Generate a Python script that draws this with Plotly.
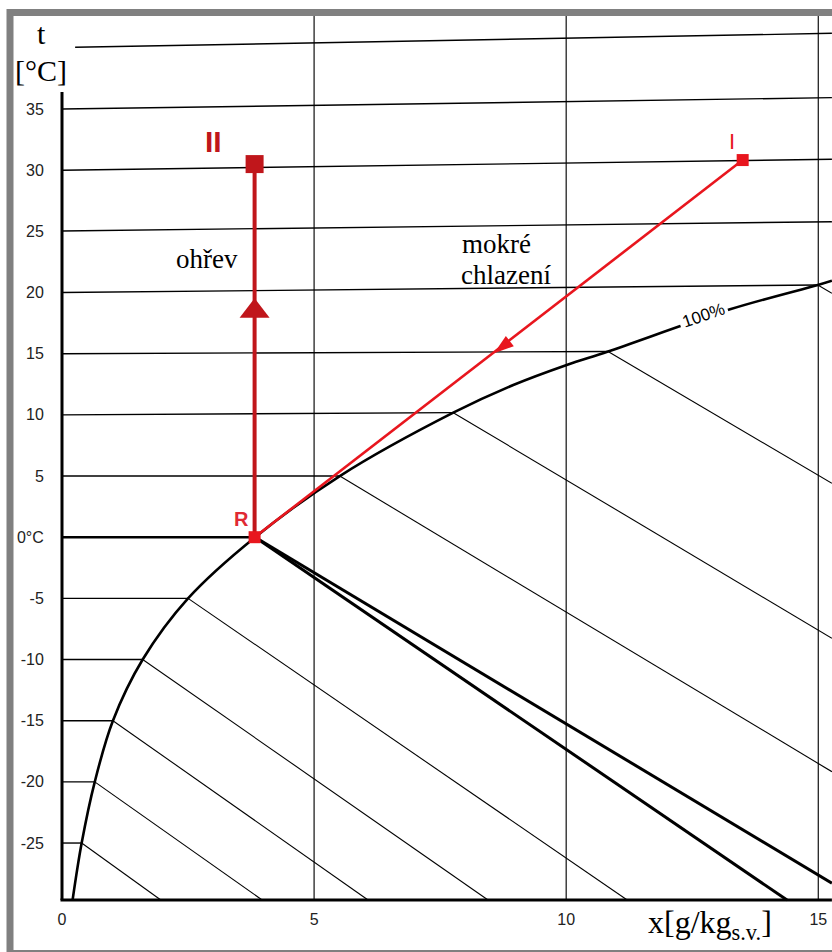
import plotly.graph_objects as go

# Hodnoty: x v g/kg s.v., t ve °C tak, jak je vyneseno v diagramu

# křivka nasycení (phi = 100 %)
sat_x = [0.21, 0.39, 0.65, 1.01, 1.60, 2.50, 3.83, 5.51, 7.76, 8.95, 10.01, 10.83, 13.25, 14.99, 15.27]
sat_t = [-29.66, -25.0, -20.0, -15.0, -10.0, -5.0, 0.0, 5.0, 10.18, 12.44, 14.08, 15.18, 18.63, 20.62, 20.97]

# izotermy nad křivkou nasycení (začátek / konec)
iso_t = [-25, -20, -15, -10, -5, 0, 5, 10, 15, 20, 25, 30, 35, 40]
iso_x0 = [0, 0, 0, 0, 0, 0, 0, 0, 0, 0, 0, 0, 0, 0.26]
iso_t0 = [-25, -20, -15, -10, -5, 0, 5, 10, 15, 20, 25.03, 30, 35, 40.05]
iso_x1 = [0.39, 0.65, 1.01, 1.60, 2.50, 3.83, 5.51, 7.76, 10.83, 14.99, 15.27, 15.27, 15.27, 15.27]
iso_t1 = [-25, -20, -15, -10, -5, 0, 5.0, 10.18, 15.18, 20.62, 25.79, 30.89, 35.93, 41.19]

# izotermy v oblasti mlhy (led pod 0 °C, při 0 °C led i voda)
fog_t = [-25, -20, -15, -10, -5, 0, 0, 5, 10, 15, 20]
fog_bold = [False, False, False, False, False, True, True, False, False, False, False]
fog_x0 = [0.39, 0.65, 1.01, 1.60, 2.50, 3.83, 3.83, 5.51, 7.76, 10.83, 14.99]
fog_t0 = [-25, -20, -15, -10, -5, 0, 0, 5, 10.18, 15.18, 20.62]
fog_x1 = [1.96, 3.97, 6.07, 8.45, 11.21, 14.38, 15.27, 15.27, 15.27, 15.27, 15.27]
fog_t1 = [-29.66, -29.66, -29.66, -29.66, -29.66, -29.66, -28.29, -19.17, -8.26, 4.41, 19.94]

# svislé čáry x = konst.
grid_x = [5, 10, 15]

# osy
x_ticks = [0, 5, 10, 15]
y_ticks = [-25, -20, -15, -10, -5, 0, 5, 10, 15, 20, 25, 30, 35]
y_ticktext = ["-25", "-20", "-15", "-10", "-5", "0°C", "5", "10", "15", "20", "25", "30", "35"]
t_bottom = -29.66
t_axis_top = 36.39
t_top = 42.6
x_right = 15.27

# body procesu
pt_name = ["I", "R", "II"]
pt_x = [13.50, 3.82, 3.82]
pt_t = [30.83, 0.0, 30.50]

# šipky (ohřev, mokré chlazení)
arrow_x = [3.82, 8.57]
arrow_t = [18.47, 15.03]

W, H = 832, 952
SX, X0 = 50.42, 62      # px na g/kg, poloha x = 0
ST, T0 = 12.233, 537.2  # px na °C, poloha t = 0


def px_x(px):
    return (px - X0) / SX


def px_t(py):
    return (T0 - py) / ST


X_RANGE = [px_x(0), px_x(W)]
T_RANGE = [px_t(H), px_t(0)]

DARK_RED = "#C0161B"
RED = "#E8161E"
SERIF = "Liberation Serif"
SANS = "Liberation Sans"

fig = go.Figure()


def line(xs, ts, width, color="black", shape="linear"):
    fig.add_trace(go.Scatter(
        x=xs, y=ts, mode="lines",
        line=dict(color=color, width=width, shape=shape),
        hoverinfo="skip", showlegend=False,
    ))


# svislé čáry
for gx in grid_x:
    line([gx, gx], [t_bottom, t_top], 1.3, "#222")

# izotermy
for i in range(len(iso_t)):
    line([iso_x0[i], iso_x1[i]], [iso_t0[i], iso_t1[i]], 2.4 if iso_t[i] == 0 else 1.4)

# izotermy mlhy
for i in range(len(fog_t)):
    line([fog_x0[i], fog_x1[i]], [fog_t0[i], fog_t1[i]], 3 if fog_bold[i] else 1.1)

# křivka nasycení
line(sat_x, sat_t, 2.6, shape="spline")

# osy
line([0, 0], [t_bottom, t_axis_top], 3)
line([-0.03, x_right], [t_bottom, t_bottom], 3)

# ohřev R -> II
line([pt_x[1], pt_x[2]], [pt_t[1], pt_t[2]], 4, DARK_RED)
# mokré chlazení I -> R
line([pt_x[0], pt_x[1]], [pt_t[0], pt_t[1]], 2.6, RED)

fig.add_trace(go.Scatter(
    x=arrow_x, y=arrow_t, mode="markers",
    marker=dict(symbol=["triangle-up", "arrow"], size=[26, 21], angle=[0, 232], opacity=1,
                color=[DARK_RED, RED], line=dict(width=0)),
    hoverinfo="skip", showlegend=False,
))
fig.add_trace(go.Scatter(
    x=pt_x, y=pt_t, mode="markers",
    marker=dict(symbol="square", size=[12, 12, 18], opacity=1,
                color=[RED, RED, DARK_RED], line=dict(width=0)),
    hoverinfo="skip", showlegend=False,
))

annotations = [
    dict(x=px_x(213), y=px_t(141.5), text="<b>II</b>", font=dict(family=SANS, size=30, color=DARK_RED)),
    dict(x=px_x(732.3), y=px_t(141), text="I", font=dict(family=SANS, size=22, color=RED)),
    dict(x=px_x(241.7), y=px_t(519.2), text="<b>R</b>", font=dict(family=SANS, size=20, color="#E02A33")),
    dict(x=px_x(207), y=px_t(258.5), text="ohřev", font=dict(family=SERIF, size=27, color="black")),
    dict(x=px_x(460), y=px_t(244), text="mokré", xanchor="left",
         font=dict(family=SERIF, size=27, color="black")),
    dict(x=px_x(459), y=px_t(275), text="chlazení", xanchor="left",
         font=dict(family=SERIF, size=27, color="black")),
    dict(x=px_x(703.5), y=px_t(315.8), text="100%", textangle=-19, bgcolor="white", borderpad=3,
         font=dict(family=SANS, size=17, color="black")),
    dict(x=px_x(41), y=px_t(33), text="t", font=dict(family=SERIF, size=30, color="black")),
    dict(x=px_x(41), y=px_t(70), text="[°C]", font=dict(family=SERIF, size=30, color="black")),
    dict(x=px_x(646), y=px_t(924), text="x[g/kg<sub>s.v.</sub>]", xanchor="left",
         font=dict(family=SERIF, size=32, color="black")),
]
for a in annotations:
    a.setdefault("xanchor", "center")
    a.update(xref="x", yref="y", showarrow=False, yanchor="middle")
    fig.add_annotation(**a)

# šedý rámeček
fig.add_shape(type="rect", xref="paper", yref="paper",
              x0=10 / W, x1=(W + 20) / W,
              y0=(H - 953.5) / H, y1=(H - 12.5) / H,
              line=dict(color="#808080", width=7), fillcolor="rgba(0,0,0,0)", layer="above")

fig.update_layout(
    template="none",
    width=W, height=H,
    margin=dict(l=0, r=0, t=0, b=0),
    paper_bgcolor="white", plot_bgcolor="white",
    showlegend=False,
    xaxis=dict(range=X_RANGE, anchor="free", position=(H - 900.5) / H,
               showgrid=False, zeroline=False, showline=False,
               tickvals=x_ticks, ticktext=[str(v) for v in x_ticks],
               ticks="outside", ticklen=4, tickcolor="rgba(0,0,0,0)",
               tickfont=dict(family=SANS, size=16, color="#222"), automargin=False),
    yaxis=dict(range=T_RANGE, anchor="free", position=X0 / W,
               showgrid=False, zeroline=False, showline=False,
               tickvals=y_ticks, ticktext=y_ticktext,
               ticks="outside", ticklen=15, tickcolor="rgba(0,0,0,0)",
               tickfont=dict(family=SANS, size=16, color="#222"), automargin=False),
)

# bez okraje stránky, aby graf seděl přesně v okně
fig.write_html("out.html", config={"displayModeBar": False},
               post_script="document.body.style.margin='0';document.body.style.overflow='hidden';")
